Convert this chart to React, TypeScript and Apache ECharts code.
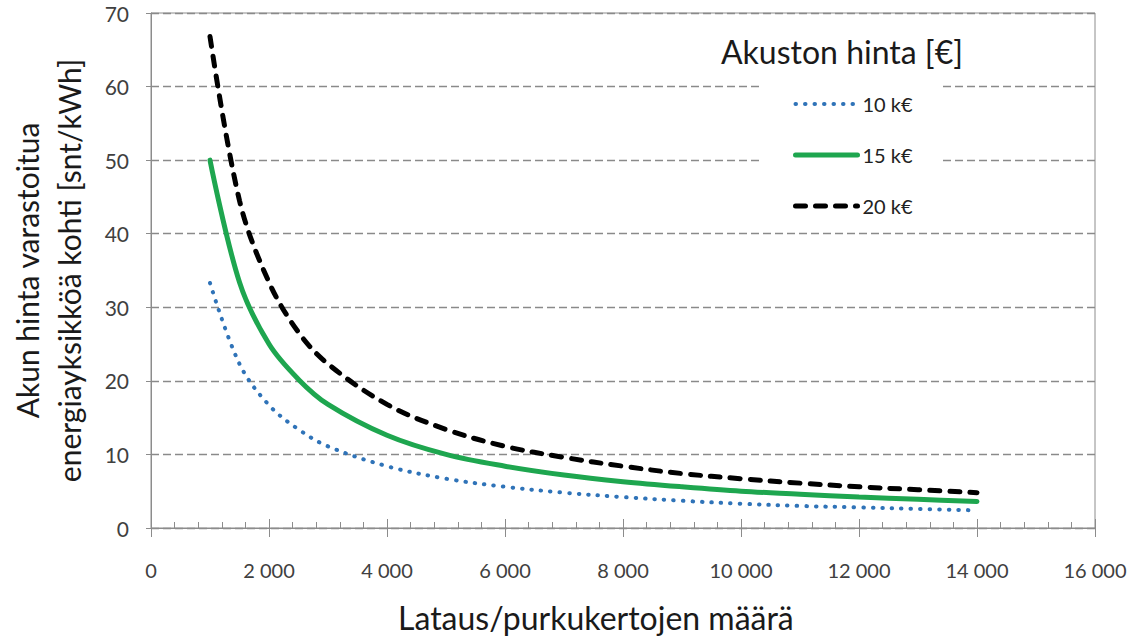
import React, { useEffect, useRef } from "react";
import * as echarts from "echarts";

const cycles = [1000, 1500, 2000, 2500, 3000, 4000, 5000, 6000, 7000, 8000, 9000, 10000, 11000, 12000, 13000, 14000];
const price10k = [33.3, 22.3, 16.7, 13.4, 11.1, 8.4, 6.7, 5.6, 4.8, 4.2, 3.7, 3.3, 3.0, 2.8, 2.6, 2.4];
const price15k = [50.0, 33.4, 25.0, 20.2, 16.8, 12.6, 10.0, 8.4, 7.2, 6.3, 5.6, 5.0, 4.6, 4.2, 3.9, 3.6];
const price20k = [66.8, 44.5, 33.4, 26.6, 22.3, 16.8, 13.4, 11.1, 9.6, 8.4, 7.4, 6.7, 6.1, 5.6, 5.2, 4.8];
const seriesNames = ["10 k€", "15 k€", "20 k€"];
const legendTitle = "Akuston hinta [€]";
const xTitle = "Lataus/purkukertojen määrä";
const yTitle = "Akun hinta varastoitua\nenergiayksikköä kohti [snt/kWh]";

const FONT = "Lato, 'Open Sans', sans-serif";
const BLUE = "#2f73b8";
const GREEN = "#1ea64f";
const BLACK = "#000000";

function pairs(ys: number[]) {
  return cycles.map((x, i) => [x, ys[i]]);
}

export default function App() {
  const ref = useRef<HTMLDivElement>(null);
  useEffect(() => {
    if (!ref.current) return;
    const chart = echarts.init(ref.current, undefined, { renderer: "svg" });
    const fmt = (v: number) => {
      if (v < 1000) return String(v);
      const s = String(v);
      return s.slice(0, s.length - 3) + " " + s.slice(s.length - 3);
    };
    const blueLine = { color: BLUE, width: 4, type: [0.5, 9], cap: "round" };
    const greenLine = { color: GREEN, width: 5, type: "solid", cap: "round" };
    const blackLine = { color: BLACK, width: 5, type: [10, 10], cap: "round" };
    chart.setOption({
      animation: false,
      backgroundColor: "#fff",
      textStyle: { fontFamily: FONT },
      title: [
        {
          text: legendTitle,
          left: 716,
          top: 30,
          textStyle: { fontFamily: FONT, fontSize: 32, fontWeight: "normal", color: "#1a1a1a" },
        },
        {
          text: xTitle,
          left: 393,
          top: 596,
          textStyle: { fontFamily: FONT, fontSize: 32, fontWeight: "normal", color: "#1a1a1a" },
        },
      ],
      legend: {
        orient: "vertical",
        left: 760,
        top: 80,
        padding: [14, 30, 14, 33],
        backgroundColor: "#fff",
        itemWidth: 62,
        itemHeight: 14,
        itemGap: 31,
        itemStyle: { opacity: 0 },
        lineStyle: { width: "inherit" },
        textStyle: { fontFamily: FONT, fontSize: 20, color: "#222" },
        data: seriesNames,
      },
      grid: {
        left: 151,
        right: 53,
        top: 13,
        bottom: 112,
        show: true,
        borderColor: "#8c8c8c",
        borderWidth: 1,
        backgroundColor: "transparent",
        outerBoundsMode: "none",
        containLabel: false,
      },
      xAxis: [
        {
          type: "value",
          min: 0,
          max: 16000,
          interval: 2000,
          position: "bottom",
          axisLine: { show: true, lineStyle: { color: "#8c8c8c", width: 1 } },
          axisTick: { show: true, length: 9, lineStyle: { color: "#8c8c8c" } },
          axisLabel: { fontFamily: FONT, fontSize: 20, color: "#404040", margin: 32, formatter: fmt },
          splitLine: { show: false },
        },
        {
          type: "value",
          min: 0,
          max: 16000,
          interval: 2000,
          position: "bottom",
          offset: 0,
          axisLine: { show: false },
          axisTick: { show: true, inside: true, length: 9, lineStyle: { color: "#8c8c8c" } },
          minorTick: { show: true, splitNumber: 5, length: 6, lineStyle: { color: "#8c8c8c" } },
          axisLabel: { show: false },
          splitLine: { show: false },
        },
      ],
      yAxis: {
        type: "value",
        min: 0,
        max: 70,
        interval: 10,
        axisLine: { show: true, lineStyle: { color: "#8c8c8c", width: 1 } },
        axisTick: { show: true, length: 5, lineStyle: { color: "#8c8c8c" } },
        axisLabel: { fontFamily: FONT, fontSize: 21, color: "#404040", margin: 22 },
        splitLine: { show: true, lineStyle: { color: "#8a8a8a", type: [8, 4], width: 1.3 } },
        name: yTitle,
        nameLocation: "middle",
        nameGap: 61,
        nameTextStyle: { fontFamily: FONT, fontSize: 30, color: "#1a1a1a", lineHeight: 42 },
      },
      series: [
        {
          name: seriesNames[0],
          type: "line",
          data: pairs(price10k),
          smooth: 0.35,
          symbol: "none",
          lineStyle: blueLine,
          itemStyle: { color: BLUE },
          z: 3,
        },
        {
          name: seriesNames[1],
          type: "line",
          data: pairs(price15k),
          smooth: 0.35,
          symbol: "none",
          lineStyle: greenLine,
          itemStyle: { color: GREEN },
          z: 3,
        },
        {
          name: seriesNames[2],
          type: "line",
          data: pairs(price20k),
          smooth: 0.35,
          symbol: "none",
          lineStyle: blackLine,
          itemStyle: { color: BLACK },
          z: 3,
        },
      ],
    });
    return () => chart.dispose();
  }, []);
  return (
    <div
      ref={ref}
      style={{ position: "fixed", left: 0, top: 0, width: 1148, height: 640 }}
    />
  );
}
